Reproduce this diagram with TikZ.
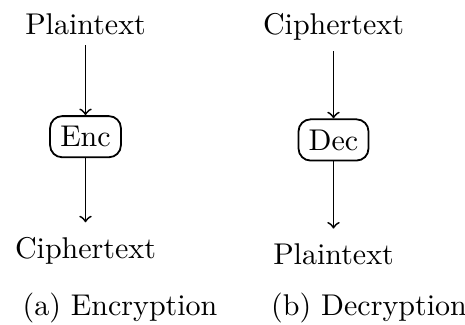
\documentclass[tikz,border=0pt]{standalone}
\begin{document}
\begin{tikzpicture}[x=0.3333pt,y=-0.3333pt,line width=0.6pt,
  lbl/.style={inner sep=3.33pt,anchor=base},
  boxnode/.style={draw,rounded corners=4pt,inner sep=3.4pt,anchor=base},
  arr/.style={->},
  arrend/.style={->,shorten >=1.3pt}]
\useasboundingbox (0,0) rectangle (465,324);
% (a) Encryption
\node[lbl] (p1) at (85.5,34) {Plaintext};
\node[boxnode] (enc) at (85.5,146.7) {Enc};
\node[lbl] (c1) at (85.5,258.3) {Ciphertext};
\draw[arr] (p1) -- (enc);
\draw[arrend] (enc) -- (c1);
\node[lbl] (capa) at (120,315) {(a) Encryption};
% (b) Decryption
\node[lbl] (c2) at (333.5,34.3) {Ciphertext};
\node[boxnode] (dec) at (333.5,150) {Dec};
\node[lbl] (p2) at (333.5,264.2) {Plaintext};
\draw[arr] (c2) -- (dec);
\draw[arrend] (dec) -- (p2);
\node[lbl] (capb) at (369,315) {(b) Decryption};
\end{tikzpicture}
\end{document}
